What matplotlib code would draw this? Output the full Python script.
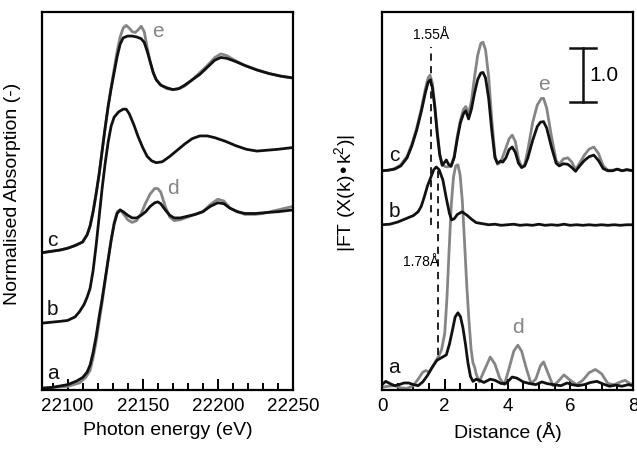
import matplotlib.pyplot as plt
from matplotlib.ticker import MultipleLocator

plt.rcParams['font.family'] = ['Liberation Sans', 'DejaVu Sans']
plt.rcParams['mathtext.default'] = 'regular'

BLACK = '#111111'
GREY = '#858585'

# ---- XANES spectra (energy in eV, normalised absorption, stacked) ----
e_a = [22083, 22090, 22100, 22106, 22110, 22113, 22115, 22117, 22119, 22121,
       22123, 22125, 22127, 22129, 22131, 22133, 22135, 22137, 22140, 22143,
       22146, 22149, 22152, 22155, 22158, 22160, 22162, 22165, 22168, 22171,
       22175, 22180, 22185, 22190, 22195, 22200, 22204, 22208, 22213, 22218,
       22225, 22232, 22240, 22250]
mu_a = [0.00, 0.005, 0.02, 0.04, 0.06, 0.09, 0.13, 0.20, 0.29, 0.40,
        0.50, 0.61, 0.72, 0.83, 0.92, 0.98, 1.00, 0.99, 0.97, 0.955,
        0.955, 0.97, 0.99, 1.02, 1.04, 1.045, 1.035, 1.00, 0.97, 0.955,
        0.955, 0.965, 0.975, 0.99, 1.02, 1.04, 1.035, 1.01, 0.99, 0.98,
        0.98, 0.985, 0.99, 1.00]

e_d = [22083, 22100, 22108, 22112, 22115, 22117, 22119, 22121, 22123, 22125,
       22127, 22129, 22131, 22133, 22135, 22137, 22140, 22143, 22146, 22149,
       22152, 22155, 22158, 22160, 22162, 22165, 22168, 22171, 22175, 22180,
       22185, 22190, 22195, 22200, 22204, 22208, 22213, 22218, 22225, 22230,
       22235, 22240, 22245, 22250]
mu_d = [0.00, 0.01, 0.03, 0.06, 0.10, 0.17, 0.26, 0.37, 0.48, 0.60,
        0.72, 0.83, 0.93, 0.99, 1.00, 0.98, 0.945, 0.93, 0.94, 0.98,
        1.04, 1.09, 1.12, 1.12, 1.10, 1.02, 0.96, 0.94, 0.945, 0.96,
        0.975, 0.99, 1.03, 1.06, 1.05, 1.01, 0.99, 0.975, 0.975, 0.98,
        0.99, 1.00, 1.01, 1.02]

e_b = [22083, 22095, 22100, 22105, 22108, 22111, 22113, 22115, 22117, 22119,
       22121, 22123, 22125, 22127, 22129, 22131, 22134, 22137, 22139, 22141,
       22144, 22147, 22150, 22153, 22156, 22159, 22163, 22168, 22173, 22178,
       22183, 22188, 22193, 22198, 22205, 22212, 22219, 22226, 22233, 22240,
       22250]
mu_b = [0.365, 0.375, 0.38, 0.40, 0.43, 0.47, 0.51, 0.56, 0.66, 0.80,
        0.96, 1.12, 1.26, 1.38, 1.47, 1.52, 1.55, 1.565, 1.565, 1.54,
        1.48, 1.41, 1.35, 1.30, 1.275, 1.265, 1.27, 1.30, 1.335, 1.37,
        1.40, 1.415, 1.415, 1.405, 1.385, 1.36, 1.34, 1.33, 1.335, 1.34,
        1.35]

e_c = [22083, 22095, 22100, 22105, 22110, 22113, 22115, 22117, 22119, 22121,
       22123, 22125, 22127, 22129, 22131, 22133, 22135, 22137, 22140, 22143,
       22146, 22149, 22151, 22153, 22155, 22157, 22159, 22162, 22166, 22170,
       22174, 22178, 22183, 22188, 22193, 22198, 22202, 22206, 22211, 22218,
       22226, 22234, 22242, 22250]
mu_c = [0.76, 0.775, 0.785, 0.80, 0.82, 0.86, 0.91, 0.99, 1.09, 1.20,
        1.33, 1.46, 1.58, 1.68, 1.77, 1.86, 1.93, 1.965, 1.975, 1.975,
        1.97, 1.96, 1.94, 1.89, 1.83, 1.77, 1.73, 1.70, 1.685, 1.675,
        1.68, 1.70, 1.73, 1.76, 1.80, 1.84, 1.855, 1.85, 1.835, 1.81,
        1.785, 1.765, 1.75, 1.74]

e_e = [22083, 22095, 22100, 22105, 22110, 22113, 22115, 22117, 22119, 22121,
       22123, 22125, 22127, 22129, 22131, 22133, 22135, 22137, 22139, 22141,
       22143, 22145, 22147, 22149, 22151, 22153, 22155, 22157, 22159, 22162,
       22166, 22170, 22174, 22178, 22183, 22188, 22193, 22198, 22202, 22206,
       22211, 22218, 22226, 22234, 22242, 22250]
mu_e = [0.76, 0.775, 0.785, 0.80, 0.82, 0.86, 0.91, 0.99, 1.09, 1.20,
        1.33, 1.46, 1.58, 1.69, 1.79, 1.89, 1.97, 2.02, 2.035, 2.02,
        2.00, 1.995, 2.01, 2.03, 2.00, 1.91, 1.83, 1.77, 1.73, 1.70,
        1.68, 1.675, 1.68, 1.695, 1.73, 1.77, 1.81, 1.855, 1.875, 1.865,
        1.84, 1.81, 1.785, 1.765, 1.75, 1.74]

# ---- Fourier transforms (distance in Angstrom, |FT|, stacked) ----
r_a = [0.00, 0.12, 0.25, 0.40, 0.55, 0.70, 0.85, 1.00, 1.15, 1.30,
       1.45, 1.60, 1.75, 1.90, 2.05, 2.15, 2.25, 2.33, 2.42, 2.50,
       2.58, 2.66, 2.74, 2.82, 2.90, 3.00, 3.10, 3.25, 3.45, 3.60,
       3.80, 3.95, 4.15, 4.30, 4.50, 4.70, 4.90, 5.10, 5.25, 5.45,
       5.70, 5.90, 6.05, 6.25, 6.45, 6.65, 6.85, 7.05, 7.25, 7.45,
       7.65, 7.85, 8.00]
ft_a = [0.10, 0.16, 0.12, 0.08, 0.10, 0.13, 0.13, 0.10, 0.08, 0.15,
        0.27, 0.42, 0.55, 0.60, 0.65, 0.85, 1.12, 1.35, 1.43, 1.36,
        1.15, 0.85, 0.50, 0.25, 0.16, 0.20, 0.18, 0.14, 0.20, 0.18,
        0.12, 0.12, 0.24, 0.22, 0.15, 0.12, 0.10, 0.15, 0.12, 0.10,
        0.08, 0.13, 0.10, 0.08, 0.10, 0.14, 0.16, 0.11, 0.07, 0.09,
        0.07, 0.10, 0.08]

r_d = [0.00, 0.20, 0.40, 0.60, 0.80, 1.00, 1.15, 1.30, 1.40, 1.50,
       1.60, 1.70, 1.80, 1.90, 2.00, 2.07, 2.14, 2.21, 2.28, 2.35,
       2.42, 2.49, 2.56, 2.63, 2.70, 2.77, 2.84, 2.90, 2.95, 3.00,
       3.10, 3.25, 3.45, 3.60, 3.75, 3.90, 4.05, 4.20, 4.33, 4.45,
       4.60, 4.75, 4.90, 5.05, 5.15, 5.30, 5.45, 5.60, 5.80, 6.00,
       6.20, 6.40, 6.60, 6.80, 7.00, 7.20, 7.40, 7.60, 7.75, 7.90,
       8.00]
ft_d = [0.05, 0.07, 0.08, 0.04, 0.03, 0.08, 0.20, 0.33, 0.36, 0.33,
        0.42, 0.52, 0.62, 0.75, 1.05, 1.70, 2.60, 3.45, 3.95, 4.15,
        4.17, 3.98, 3.50, 2.75, 1.95, 1.30, 0.75, 0.50, 0.43, 0.30,
        0.15, 0.35, 0.61, 0.48, 0.22, 0.10, 0.40, 0.72, 0.83, 0.72,
        0.40, 0.12, 0.20, 0.45, 0.52, 0.30, 0.08, 0.15, 0.28, 0.18,
        0.10, 0.18, 0.32, 0.38, 0.30, 0.12, 0.10, 0.15, 0.18, 0.12,
        0.10]

r_b = [0.00, 0.25, 0.50, 0.75, 1.00, 1.15, 1.25, 1.35, 1.45, 1.57,
       1.65, 1.73, 1.82, 1.94, 2.05, 2.15, 2.22, 2.30, 2.40, 2.55,
       2.70, 2.86, 3.00, 3.20, 3.40, 3.60, 3.80, 4.00, 4.20, 4.40,
       4.60, 4.80, 5.00, 5.20, 5.40, 5.60, 5.80, 6.00, 6.20, 6.40,
       6.60, 6.80, 7.00, 7.20, 7.40, 7.60, 7.80, 8.00]
ft_b = [3.06, 3.07, 3.11, 3.17, 3.23, 3.30, 3.40, 3.58, 3.78, 3.96,
        4.08, 4.13, 4.08, 3.89, 3.55, 3.27, 3.15, 3.17, 3.25, 3.30,
        3.24, 3.16, 3.10, 3.08, 3.06, 3.07, 3.05, 3.06, 3.07, 3.05,
        3.06, 3.05, 3.07, 3.05, 3.06, 3.05, 3.07, 3.05, 3.06, 3.05,
        3.06, 3.05, 3.06, 3.05, 3.06, 3.05, 3.06, 3.06]

r_c = [0.00, 0.20, 0.40, 0.60, 0.80, 0.95, 1.10, 1.25, 1.38, 1.47,
       1.53, 1.60, 1.68, 1.76, 1.84, 1.92, 2.00, 2.05, 2.12, 2.20,
       2.30, 2.40, 2.50, 2.60, 2.67, 2.76, 2.85, 2.95, 3.05, 3.15,
       3.22, 3.30, 3.40, 3.50, 3.60, 3.68, 3.78, 3.85, 3.95, 4.05,
       4.15, 4.25, 4.35, 4.45, 4.55, 4.65, 4.80, 4.95, 5.05, 5.15,
       5.25, 5.40, 5.55, 5.65, 5.78, 5.92, 6.05, 6.17, 6.30, 6.45,
       6.60, 6.75, 6.90, 7.05, 7.20, 7.35, 7.50, 7.65, 7.80, 8.00]
ft_c = [4.06, 4.07, 4.09, 4.15, 4.30, 4.52, 4.80, 5.15, 5.50, 5.70,
        5.74, 5.62, 5.25, 4.75, 4.35, 4.16, 4.22, 4.26, 4.18, 4.14,
        4.30, 4.65, 4.95, 5.12, 5.17, 5.02, 5.20, 5.50, 5.75, 5.87,
        5.88, 5.78, 5.40, 4.80, 4.30, 4.20, 4.24, 4.22, 4.30, 4.45,
        4.50, 4.40, 4.20, 4.12, 4.15, 4.30, 4.62, 4.88, 4.96, 4.97,
        4.85, 4.50, 4.20, 4.15, 4.19, 4.18, 4.12, 4.05, 4.15, 4.25,
        4.32, 4.35, 4.25, 4.10, 4.06, 4.06, 4.09, 4.06, 4.08, 4.06]

r_e = [0.00, 0.20, 0.40, 0.60, 0.80, 0.95, 1.10, 1.25, 1.38, 1.47,
       1.53, 1.60, 1.68, 1.76, 1.84, 1.92, 2.00, 2.10, 2.20, 2.30,
       2.40, 2.50, 2.60, 2.67, 2.76, 2.85, 2.95, 3.05, 3.15, 3.22,
       3.30, 3.40, 3.50, 3.60, 3.68, 3.78, 3.90, 4.05, 4.15, 4.25,
       4.35, 4.45, 4.55, 4.65, 4.80, 4.95, 5.08, 5.15, 5.25, 5.40,
       5.55, 5.65, 5.78, 5.92, 6.05, 6.17, 6.30, 6.45, 6.60, 6.75,
       6.90, 7.05, 7.20, 7.35, 7.50, 7.65, 7.80, 8.00]
ft_e = [4.06, 4.07, 4.10, 4.17, 4.33, 4.55, 4.84, 5.20, 5.57, 5.78,
        5.83, 5.70, 5.30, 4.80, 4.38, 4.18, 4.14, 4.13, 4.16, 4.33,
        4.70, 5.00, 5.20, 5.25, 5.12, 5.35, 5.80, 6.20, 6.42, 6.44,
        6.30, 5.80, 5.00, 4.35, 4.18, 4.22, 4.40, 4.65, 4.72, 4.60,
        4.28, 4.12, 4.18, 4.45, 4.95, 5.28, 5.40, 5.40, 5.22, 4.70,
        4.25, 4.18, 4.28, 4.30, 4.22, 4.08, 4.20, 4.35, 4.46, 4.50,
        4.38, 4.15, 4.07, 4.07, 4.09, 4.06, 4.08, 4.06]

r_short = 1.55
r_long = 1.78
scale_bar = 1.0

fig = plt.figure(figsize=(6.37, 4.53), dpi=100)
ax1 = fig.add_axes([42 / 637, 63 / 453, 251 / 637, 378 / 453])
ax2 = fig.add_axes([382 / 637, 63 / 453, 251 / 637, 378 / 453])

lw = 2.0
fs_tick = 13.5
fs_lab = 14

# XANES panel
ax1.plot(e_d, mu_d, color=GREY, lw=lw)
ax1.plot(e_a, mu_a, color=BLACK, lw=lw)
ax1.plot(e_b, mu_b, color=BLACK, lw=lw)
ax1.plot(e_e, mu_e, color=GREY, lw=lw)
ax1.plot(e_c, mu_c, color=BLACK, lw=lw)
ax1.set_xlim(22083, 22250)
ax1.set_ylim(-0.01, 2.11)
ax1.xaxis.set_major_locator(MultipleLocator(50))
ax1.xaxis.set_minor_locator(MultipleLocator(10))
ax1.set_xlabel('Photon energy (eV)', fontsize=fs_lab, labelpad=5)
ax1.set_ylabel('Normalised Absorption (-)', fontsize=fs_lab)
ax1.yaxis.set_label_coords(-0.082, 0.52)
for lab, x, y, col in [('c', 22090, 0.83, BLACK), ('b', 22090, 0.44, BLACK),
                       ('a', 22090, 0.085, BLACK), ('e', 22160, 2.0, GREY),
                       ('d', 22170, 1.12, GREY)]:
    ax1.text(x, y, lab, fontsize=15, color=col, ha='center', va='center')

# FT panel
ax2.plot(r_d, ft_d, color=GREY, lw=lw)
ax2.plot(r_a, ft_a, color=BLACK, lw=lw)
ax2.plot(r_b, ft_b, color=BLACK, lw=lw)
ax2.plot(r_e, ft_e, color=GREY, lw=lw)
ax2.plot(r_c, ft_c, color=BLACK, lw=lw)
ax2.plot([r_short, r_short], [3.06, 6.35], color=BLACK, lw=1.3, ls=(0, (4, 3)))
ax2.plot([r_long, r_long], [0.65, 4.07], color=BLACK, lw=1.3, ls=(0, (4, 3)))
ax2.text(r_short, 6.57, f'{r_short:.2f}Å', fontsize=10, ha='center', va='center')
ax2.text(1.25, 2.37, f'{r_long:.2f}Å', fontsize=10, ha='center', va='center')

# 1.0 scale bar
bar_x, bar_y0 = 6.4, 5.33
ax2.plot([bar_x, bar_x], [bar_y0, bar_y0 + scale_bar], color=BLACK, lw=1.8)
for yb in (bar_y0, bar_y0 + scale_bar):
    ax2.plot([bar_x - 0.42, bar_x + 0.42], [yb, yb], color=BLACK, lw=1.8)
ax2.text(bar_x + 0.22, bar_y0 + scale_bar / 2, f'{scale_bar:.1f}', fontsize=15,
         ha='left', va='center')

for lab, x, y, col in [('c', 0.39, 4.35, BLACK), ('b', 0.39, 3.3, BLACK),
                       ('a', 0.39, 0.41, BLACK), ('e', 5.15, 5.65, GREY),
                       ('d', 4.34, 1.15, GREY)]:
    ax2.text(x, y, lab, fontsize=15, color=col, ha='center', va='center')

ax2.set_xlim(0, 8)
ax2.set_ylim(0, 7.0)
ax2.xaxis.set_major_locator(MultipleLocator(2))
ax2.xaxis.set_minor_locator(MultipleLocator(0.5))
ax2.set_xlabel('Distance (Å)', fontsize=fs_lab, labelpad=5)
ax2.set_ylabel('|FT (X(k)•k$^{2}$)|', fontsize=fs_lab)
ax2.yaxis.set_label_coords(-0.095, 0.52)

for ax in (ax1, ax2):
    ax.set_yticks([])
    for s in ax.spines.values():
        s.set_linewidth(1.6)
    ax.tick_params(axis='x', which='major', direction='in', length=8, width=1.4,
                   labelsize=fs_tick, pad=6, top=False)
    ax.tick_params(axis='x', which='minor', direction='in', length=5, width=1.4,
                   top=False)

fig.savefig('out.png', dpi=100, facecolor='white')
